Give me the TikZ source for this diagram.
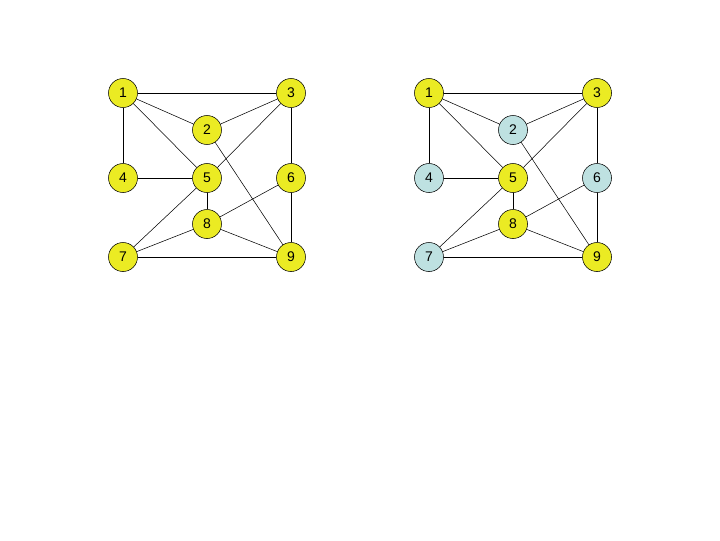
\documentclass[tikz,border=0pt]{standalone}
\usepackage{fontspec}
\setmainfont{Liberation Sans}
\usepackage{xcolor}
\definecolor{giallo}{RGB}{235,235,35}
\definecolor{azzurro}{RGB}{190,225,225}
\tikzset{
  vertice/.style={circle, draw=black, fill=giallo, minimum size=29*0.75pt, inner sep=0pt, font=\fontsize{10.5}{12}\selectfont},
  celeste/.style={vertice, fill=azzurro}
}
\begin{document}
\begin{tikzpicture}[x=0.75pt, y=-0.75pt]
\useasboundingbox (0,0) rectangle (720,540);

% Grafo di sinistra
\node[vertice] (l1) at (123,93) {1};
\node[vertice] (l2) at (207,130) {2};
\node[vertice] (l3) at (291,93) {3};
\node[vertice] (l4) at (123,178) {4};
\node[vertice] (l5) at (207,178) {5};
\node[vertice] (l6) at (291,178) {6};
\node[vertice] (l7) at (123,257) {7};
\node[vertice] (l8) at (207,224) {8};
\node[vertice] (l9) at (291,257) {9};

% Lati del grafo di sinistra
\draw (l1) -- (l3);
\draw (l1) -- (l2);
\draw (l1) -- (l5);
\draw (l1) -- (l4);
\draw (l2) -- (l3);
\draw (l2) -- (l9);
\draw (l3) -- (l5);
\draw (l3) -- (l6);
\draw (l4) -- (l5);
\draw (l5) -- (l8);
\draw (l5) -- (l7);
\draw (l6) -- (l8);
\draw (l6) -- (l9);
\draw (l7) -- (l8);
\draw (l7) -- (l9);
\draw (l8) -- (l9);

% Grafo di destra (colorato)
\node[vertice] (r1) at (429,93) {1};
\node[celeste] (r2) at (513,130) {2};
\node[vertice] (r3) at (597,93) {3};
\node[celeste] (r4) at (429,178) {4};
\node[vertice] (r5) at (513,178) {5};
\node[celeste] (r6) at (597,178) {6};
\node[celeste] (r7) at (429,257) {7};
\node[vertice] (r8) at (513,224) {8};
\node[vertice] (r9) at (597,257) {9};

% Lati del grafo di destra
\draw (r1) -- (r3);
\draw (r1) -- (r2);
\draw (r1) -- (r5);
\draw (r1) -- (r4);
\draw (r2) -- (r3);
\draw (r2) -- (r9);
\draw (r3) -- (r5);
\draw (r3) -- (r6);
\draw (r4) -- (r5);
\draw (r5) -- (r8);
\draw (r5) -- (r7);
\draw (r6) -- (r8);
\draw (r6) -- (r9);
\draw (r7) -- (r8);
\draw (r7) -- (r9);
\draw (r8) -- (r9);

\end{tikzpicture}
\end{document}
